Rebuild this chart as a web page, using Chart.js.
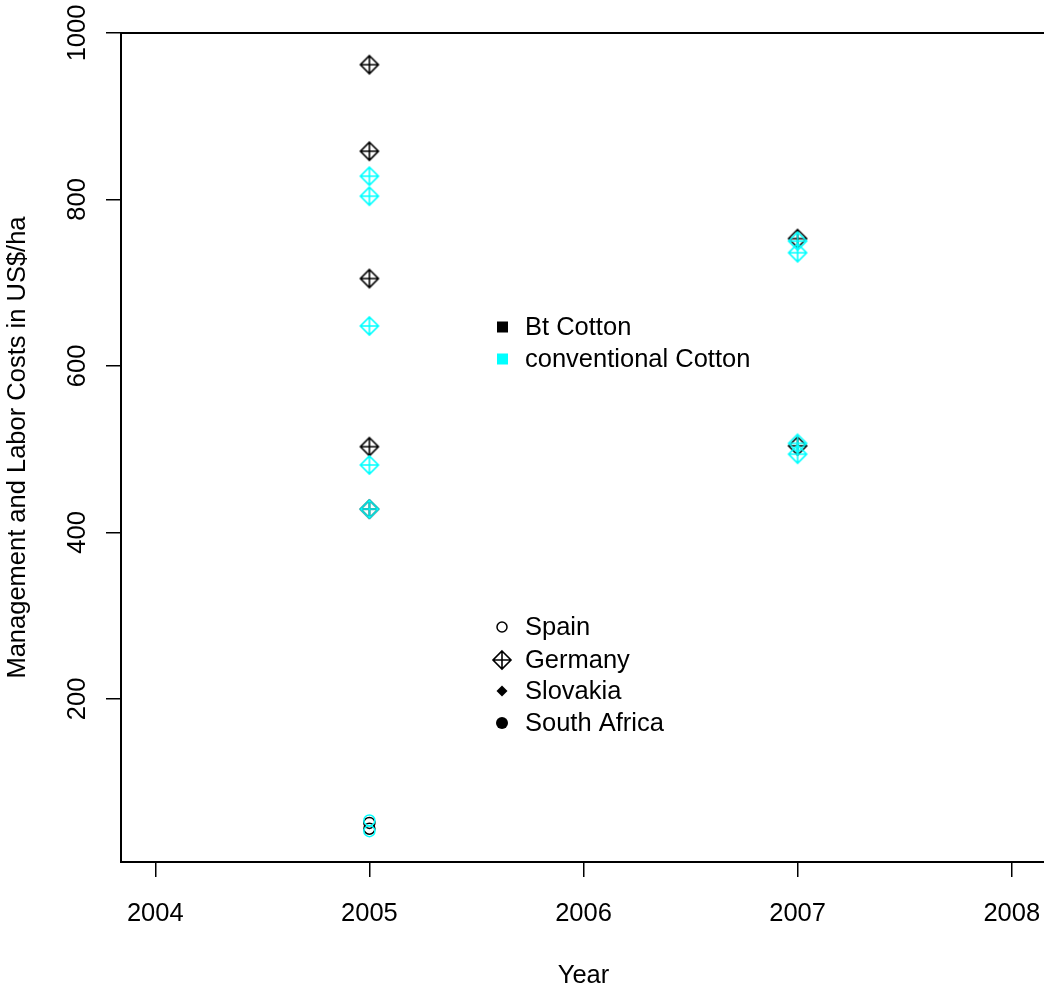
<!DOCTYPE html>
<html>
<head>
<meta charset="utf-8">
<script src="https://cdn.jsdelivr.net/npm/chart.js@4"></script>
<style>
    html, body { margin: 0; padding: 0; background: #fff; overflow: hidden; width: 1044px; height: 996px; }
    canvas { display: block; }
</style>
</head>
<body>
<!-- canvas is a little wider than the page: the plot box runs just past the right edge -->
<canvas id="costChart" width="1056" height="996"></canvas>
<script>
// Data (US$/ha)
const xTicks = [2004, 2005, 2006, 2007, 2008];
const yTicks = [200, 400, 600, 800, 1000];

const btGermany2005 = [962, 858, 705, 503, 428];
const btGermany2007 = [753, 504];
const convGermany2005 = [828, 804, 648, 481, 428];
const convGermany2007 = [750, 736, 507, 494];
const btSpain2005 = [51, 44];
const convSpain2005 = [54, 41];

const cottonLabels = ['Bt Cotton', 'conventional Cotton'];
const cottonColors = ['#000000', '#00ffff'];
const countryLabels = ['Spain', 'Germany', 'Slovakia', 'South Africa'];

const FONT = '"Liberation Sans", Arial, sans-serif';
const FONT_SIZE = 25.5;

// pch 9 style marker: diamond with a plus inside
function diamondPlus(color) {
    const c = document.createElement('canvas');
    c.width = 22;
    c.height = 22;
    const g = c.getContext('2d');
    g.strokeStyle = color;
    g.lineWidth = 1.6;
    g.beginPath();
    g.moveTo(11, 2); g.lineTo(20, 11); g.lineTo(11, 20); g.lineTo(2, 11); g.closePath();
    g.moveTo(11, 2); g.lineTo(11, 20);
    g.moveTo(2, 11); g.lineTo(20, 11);
    g.stroke();
    return c;
}

function toPoints(year, values) {
    return values.map(v => ({ x: year, y: v }));
}

const germanyDataset = (label, color, values, order) => ({
    label: label,
    data: values,
    pointStyle: diamondPlus(color),
    pointRadius: 9,
    order: order
});

const spainDataset = (label, color, values, order) => ({
    label: label,
    data: values,
    pointStyle: 'circle',
    pointRadius: 5.5,
    borderWidth: 1.5,
    borderColor: color,
    backgroundColor: 'rgba(0,0,0,0)',
    order: order
});

// Box round the plot area, rotated y tick labels and the two legends
const decorations = {
    id: 'decorations',
    afterDraw(chart) {
        const ctx = chart.ctx;
        const area = chart.chartArea;
        ctx.save();
        ctx.strokeStyle = '#000';
        ctx.lineWidth = 2;
        ctx.strokeRect(area.left, area.top, area.right - area.left, area.bottom - area.top);

        ctx.fillStyle = '#000';
        ctx.font = FONT_SIZE + 'px ' + FONT;
        ctx.textAlign = 'center';
        ctx.textBaseline = 'middle';
        const yScale = chart.scales.y;
        yScale.ticks.forEach(t => {
            ctx.save();
            ctx.translate(78, yScale.getPixelForValue(t.value));
            ctx.rotate(-Math.PI / 2);
            ctx.fillText(String(t.value), 0, 0);
            ctx.restore();
        });

        // cotton legend
        ctx.textAlign = 'left';
        const cottonY = [327, 359];
        cottonLabels.forEach((lab, i) => {
            ctx.fillStyle = cottonColors[i];
            ctx.fillRect(497, cottonY[i] - 5.5, 11, 11);
            ctx.fillStyle = '#000';
            ctx.fillText(lab, 525, cottonY[i] + 1);
        });

        // country legend
        const countryY = [627, 660, 691, 723];
        ctx.strokeStyle = '#000';
        ctx.fillStyle = '#000';
        ctx.lineWidth = 1.5;
        // Spain: open circle
        ctx.beginPath();
        ctx.arc(502, countryY[0], 5, 0, Math.PI * 2);
        ctx.stroke();
        // Germany: diamond plus
        ctx.drawImage(diamondPlus('#000'), 491, countryY[1] - 11);
        // Slovakia: filled diamond
        ctx.beginPath();
        ctx.moveTo(502, countryY[2] - 5.5); ctx.lineTo(507.5, countryY[2]);
        ctx.lineTo(502, countryY[2] + 5.5); ctx.lineTo(496.5, countryY[2]);
        ctx.closePath();
        ctx.fill();
        // South Africa: filled circle
        ctx.beginPath();
        ctx.arc(502, countryY[3], 6, 0, Math.PI * 2);
        ctx.fill();

        countryLabels.forEach((lab, i) => {
            ctx.fillText(lab, 525, countryY[i] + 1);
        });
        ctx.restore();
    }
};

const ctx = document.getElementById('costChart').getContext('2d');
new Chart(ctx, {
    type: 'scatter',
    data: {
        datasets: [
            germanyDataset('Bt Cotton Germany', cottonColors[0], toPoints(2005, btGermany2005).concat(toPoints(2007, btGermany2007)), 2),
            spainDataset('Bt Cotton Spain', cottonColors[0], toPoints(2005, btSpain2005), 2),
            germanyDataset('conventional Cotton Germany', cottonColors[1], toPoints(2005, convGermany2005).concat(toPoints(2007, convGermany2007)), 1),
            spainDataset('conventional Cotton Spain', cottonColors[1], toPoints(2005, convSpain2005), 1)
        ]
    },
    options: {
        responsive: false,
        animation: false,
        layout: { padding: { left: 0, top: 33, right: 0, bottom: 0 } },
        plugins: {
            legend: { display: false },
            tooltip: { enabled: false }
        },
        scales: {
            x: {
                type: 'linear',
                min: 2003.84,
                max: 2008.16,
                afterBuildTicks: s => { s.ticks = xTicks.map(v => ({ value: v })); },
                afterFit: s => {
                    s.height = 134;
                    s.paddingLeft = 0;
                    s.paddingRight = 0;
                },
                border: { display: false },
                grid: { drawOnChartArea: false, drawTicks: true, tickLength: 15, color: '#000', lineWidth: 1.5 },
                ticks: {
                    padding: 22,
                    color: '#000',
                    maxRotation: 0,
                    font: { family: FONT, size: FONT_SIZE },
                    callback: v => String(v)
                },
                title: {
                    display: true,
                    text: 'Year',
                    color: '#000',
                    font: { family: FONT, size: FONT_SIZE },
                    padding: { top: 0, bottom: 5 }
                }
            },
            y: {
                type: 'linear',
                min: 4,
                max: 1000,
                afterBuildTicks: s => { s.ticks = yTicks.map(v => ({ value: v })); },
                afterFit: s => {
                    s.width = 121;
                    s.paddingTop = 0;
                    s.paddingBottom = 0;
                },
                border: { display: false },
                grid: { drawOnChartArea: false, drawTicks: true, tickLength: 15, color: '#000', lineWidth: 1.5 },
                ticks: { display: false },
                title: {
                    display: true,
                    text: 'Management and Labor Costs in US$/ha',
                    color: '#000',
                    font: { family: FONT, size: FONT_SIZE },
                    padding: { top: 3, bottom: 0 }
                }
            }
        }
    },
    plugins: [decorations]
});
</script>
</body>
</html>
